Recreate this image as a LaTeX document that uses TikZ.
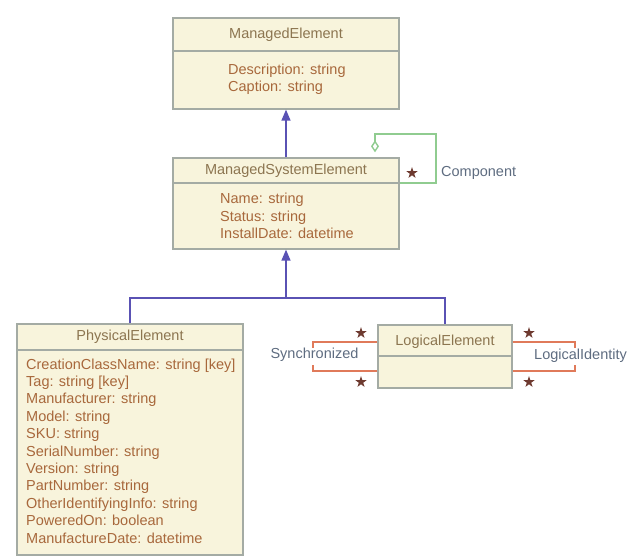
\documentclass[tikz,border=0pt]{standalone}
\usepackage{fontspec}
\setmainfont{Liberation Sans}
\usetikzlibrary{arrows.meta,shapes.geometric}
\definecolor{boxfill}{HTML}{F8F4DC}
\definecolor{boxline}{HTML}{A4ABA4}
\definecolor{hdrtext}{HTML}{8C7550}
\definecolor{attrtext}{HTML}{A8683C}
\definecolor{genline}{HTML}{5A52B4}
\definecolor{assocline}{HTML}{E07A5A}
\definecolor{compline}{HTML}{90CC90}
\definecolor{lbltext}{HTML}{5E6C80}
\definecolor{startext}{HTML}{6E3A30}
\begin{document}
\begin{tikzpicture}[x=1pt,y=-1pt,
  classbox/.style={draw=boxline, fill=boxfill, line width=1.3pt, inner sep=0pt, rectangle},
  boxrule/.style={draw=boxline, line width=1.3pt},
  hdr/.style={text=hdrtext, font=\fontsize{14.5}{17.4}\selectfont, inner sep=0pt},
  attr/.style={text=attrtext, font=\fontsize{14.5}{17.4}\selectfont, inner sep=0pt, align=left, anchor=west},
  lbl/.style={text=lbltext, font=\fontsize{14.5}{17.4}\selectfont, inner sep=0pt},
  gen/.style={draw=genline, line width=1.5pt},
  genarrow/.style={gen, -{Triangle[length=11pt,width=9pt]}},
  assoc/.style={draw=assocline, line width=1.5pt},
  comp/.style={draw=compline, line width=1.4pt},
  starmark/.style={star, star points=5, star point ratio=2.6, minimum size=12pt, inner sep=0pt, fill=startext, draw=none}
]
\useasboundingbox (0,0) rectangle (627,557);

% ManagedElement
\node[classbox, minimum width=226pt, minimum height=91pt] (me) at (286,63.5) {};
\draw[boxrule] (me.west |- 0,51) -- (me.east |- 0,51);
\node[hdr] (meh) at (286,35) {ManagedElement};
\node[attr] (mea) at (228,79.5) {Description: string\\Caption: string};

% ManagedSystemElement
\node[classbox, minimum width=226pt, minimum height=91pt] (mse) at (286,203.5) {};
\draw[boxrule] (mse.west |- 0,183) -- (mse.east |- 0,183);
\node[hdr] (mseh) at (286,171) {ManagedSystemElement};
\node[attr] (msea) at (220,216) {Name: string\\Status: string\\InstallDate: datetime};

% PhysicalElement
\node[classbox, minimum width=226pt, minimum height=231pt] (pe) at (130,439.5) {};
\draw[boxrule] (pe.west |- 0,350) -- (pe.east |- 0,350);
\node[hdr] (peh) at (130,337) {PhysicalElement};
\node[attr] (pea) at (26,451) {CreationClassName: string [key]\\Tag: string [key]\\Manufacturer: string\\Model: string\\SKU: string\\SerialNumber: string\\Version: string\\PartNumber: string\\OtherIdentifyingInfo: string\\PoweredOn: boolean\\ManufactureDate: datetime};

% LogicalElement
\node[classbox, minimum width=134pt, minimum height=63pt] (le) at (445,356.5) {};
\draw[boxrule] (le.west |- 0,356) -- (le.east |- 0,356);
\node[hdr] (leh) at (445,342) {LogicalElement};

% generalizations
\draw[genarrow] (mse.north) -- (me.south);
\coordinate (j) at (286,298);
\draw[gen] (pe.north) |- (j) -| (le.north);
\draw[genarrow] (j) -- (mse.south);

% Component aggregation
\coordinate (ct) at (436,134);
\coordinate (cb) at (0,183);
\draw[comp, {Diamond[open, fill=white, length=12pt, width=8pt]}-, shorten <=5pt] (mse.north -| 375,0) |- (ct) |- (mse.east |- cb);
\node[starmark] (cs) at (412,173) {};
\node[lbl, anchor=west] (cl) at (441,173) {Component};

% Synchronized
\coordinate (sl) at (313,0);
\draw[assoc] (le.west |- 0,342) -- (sl |- 0,342) -- (sl |- 0,348);
\draw[assoc] (le.west |- 0,371) -- (sl |- 0,371) -- (sl |- 0,365);
\node[lbl] (sy) at (314.5,355) {Synchronized};
\node[starmark] (s1) at (361,333) {};
\node[starmark] (s2) at (361,382) {};

% LogicalIdentity
\coordinate (sr) at (575,0);
\draw[assoc] (le.east |- 0,342) -- (sr |- 0,342) -- (sr |- 0,348);
\draw[assoc] (le.east |- 0,371) -- (sr |- 0,371) -- (sr |- 0,365);
\node[lbl, anchor=west] (li) at (534,356) {LogicalIdentity};
\node[starmark] (s3) at (529,333) {};
\node[starmark] (s4) at (529,382) {};
\end{tikzpicture}
\end{document}
